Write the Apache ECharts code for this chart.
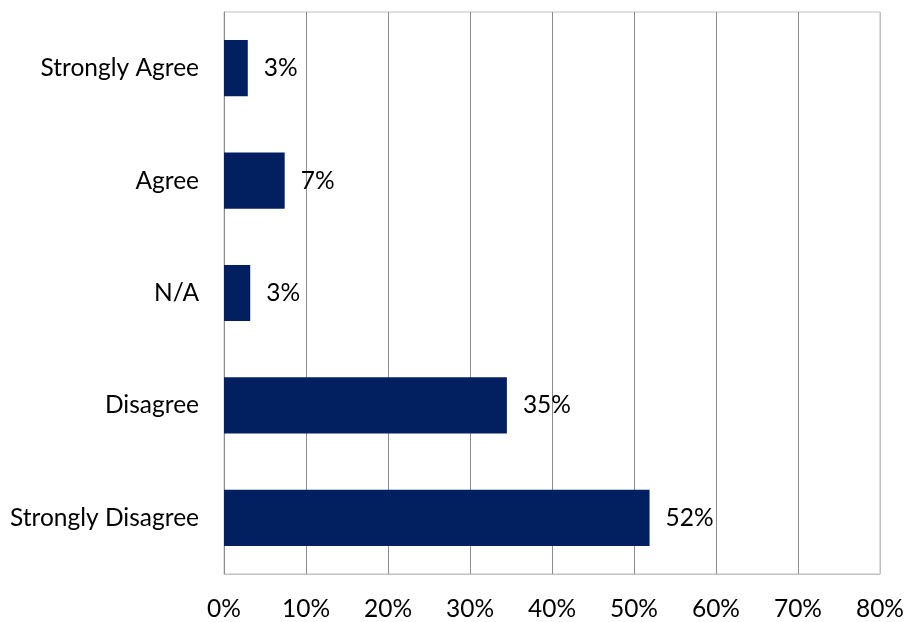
<!DOCTYPE html>
<html>
<head>
<meta charset="utf-8">
<script src="https://cdn.jsdelivr.net/npm/echarts@6/dist/echarts.min.js"></script>
<style>
  html, body { margin: 0; padding: 0; background: #fff; }
  #chart { width: 907px; height: 622px; }
</style>
</head>
<body>
<div id="chart"></div>
<script>
// Survey responses, bottom to top on the category axis
const categories = ['Strongly Disagree', 'Disagree', 'N/A', 'Agree', 'Strongly Agree'];
const shares = [51.9, 34.5, 3.2, 7.4, 2.9];
const axisTicks = [0, 10, 20, 30, 40, 50, 60, 70, 80];

const gridDark = '#8c8c8c';
const gridLight = '#c0c0c0';
const font = 'Lato, "Open Sans", sans-serif';
const fontSize = 24.5;

const chart = echarts.init(document.getElementById('chart'), null, { renderer: 'canvas' });
chart.setOption({
  animation: false,
  grid: {
    left: 224, right: 26, top: 12, bottom: 47,
    show: true, borderColor: gridLight, borderWidth: 1, backgroundColor: 'transparent'
  },
  xAxis: {
    type: 'value',
    min: axisTicks[0],
    max: axisTicks[axisTicks.length - 1],
    interval: 10,
    axisLine: { show: true, lineStyle: { color: gridLight } },
    axisTick: { show: false },
    axisLabel: {
      margin: 23, color: '#000', fontFamily: font, fontSize: fontSize,
      formatter: v => v + '%'
    },
    splitLine: {
      show: true,
      lineStyle: {
        color: axisTicks.map((t, i) => (i === axisTicks.length - 1 ? gridLight : gridDark)),
        width: 1
      }
    }
  },
  yAxis: {
    type: 'category',
    data: categories,
    axisLine: { show: true, lineStyle: { color: gridDark } },
    axisTick: { show: false },
    axisLabel: { margin: 25, color: '#000', fontFamily: font, fontSize: fontSize },
    splitLine: { show: false }
  },
  series: [{
    type: 'bar',
    data: shares,
    barCategoryGap: '50%',
    itemStyle: { color: '#022060' },
    label: {
      show: true,
      position: 'right',
      distance: 16,
      color: '#000',
      fontFamily: font,
      fontSize: fontSize,
      formatter: p => Math.round(p.value) + '%'
    }
  }]
});
</script>
</body>
</html>
